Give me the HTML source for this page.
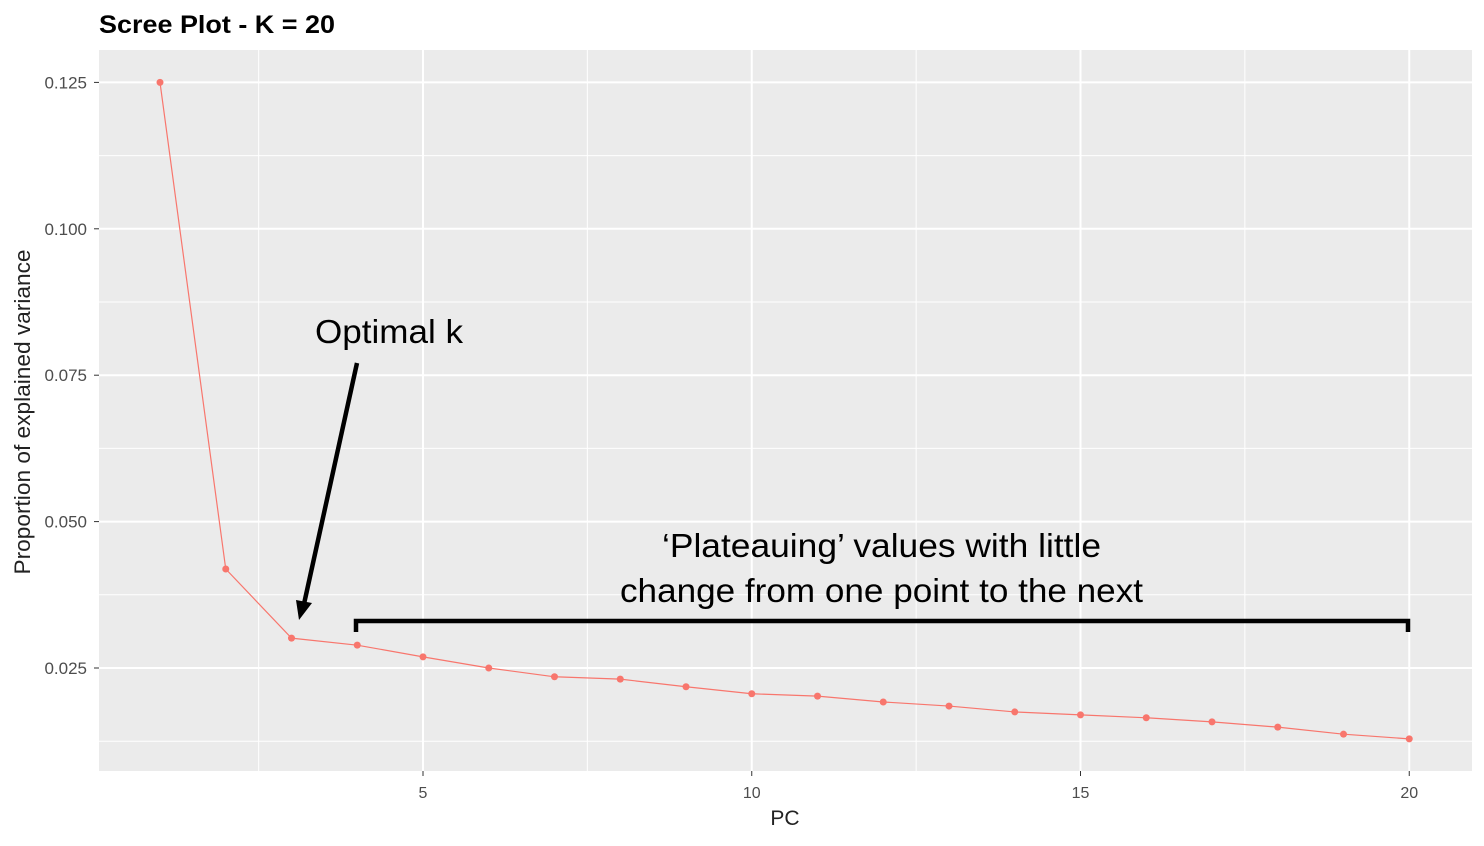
<!DOCTYPE html>
<html><head><meta charset="utf-8"><style>
body{margin:0;background:#fff;width:1484px;height:841px;overflow:hidden;font-family:"Liberation Sans",sans-serif}
</style></head><body>
<svg id="chart" width="1484" height="841" xmlns="http://www.w3.org/2000/svg">
<text x="99" y="33" font-size="25" font-weight="bold" fill="#000" textLength="236" lengthAdjust="spacingAndGlyphs">Scree Plot - K = 20</text>
<rect x="99" y="50" width="1373" height="721" fill="#ebebeb"/>
<g id="grid"></g>
<g id="axes"></g>
<g id="series"></g>
<text x="785" y="825" font-size="21" fill="#222" text-anchor="middle">PC</text>
<text transform="translate(30,412) rotate(-90)" font-size="22" fill="#222" text-anchor="middle" textLength="325" lengthAdjust="spacingAndGlyphs">Proportion of explained variance</text>
<g>
<text x="315" y="343" font-size="33" fill="#000" textLength="148" lengthAdjust="spacingAndGlyphs">Optimal k</text>
<line x1="357" y1="363" x2="304" y2="604" stroke="#000" stroke-width="4.5"/>
<polygon points="299,620 296,600 312,603" fill="#000"/>
</g>
<g>
<text x="662" y="557" font-size="33" fill="#000" textLength="439" lengthAdjust="spacingAndGlyphs">‘Plateauing’ values with little</text>
<text x="620" y="602" font-size="33" fill="#000" textLength="523" lengthAdjust="spacingAndGlyphs">change from one point to the next</text>
<path d="M356,632 L356,621 L1408,621 L1408,632" fill="none" stroke="#000" stroke-width="4.5"/>
</g>
</svg>
<script>
const pcs=[1,2,3,4,5,6,7,8,9,10,11,12,13,14,15,16,17,18,19,20];
const variance=[0.125,0.0419,0.0301,0.0289,0.0269,0.0250,0.0235,0.0231,0.0218,0.0206,0.0202,0.0192,0.0185,0.0175,0.0170,0.0165,0.0158,0.0149,0.0137,0.0129];
const xTicks=[5,10,15,20];
const xMinor=[2.5,7.5,12.5,17.5];
const yTicks=[0.025,0.05,0.075,0.1,0.125];
const yTickLabels=["0.025","0.050","0.075","0.100","0.125"];
const yMinor=[0.0125,0.0375,0.0625,0.0875,0.1125];
const NS="http://www.w3.org/2000/svg";
const xS=v=>423+(v-5)*65.75;
const yS=v=>814.4-v*5856;
function mk(tag,attrs,parent){const e=document.createElementNS(NS,tag);for(const k in attrs)e.setAttribute(k,attrs[k]);parent.appendChild(e);return e;}
const grid=document.getElementById('grid'),axes=document.getElementById('axes'),series=document.getElementById('series');
xMinor.forEach(v=>{const l=mk('line',{x1:xS(v),x2:xS(v),y1:50,y2:771,stroke:'#fff','stroke-width':1},grid);

});
yMinor.forEach(v=>{const l=mk('line',{x1:99,x2:1472,y1:yS(v),y2:yS(v),stroke:'#fff','stroke-width':1},grid);

});
xTicks.forEach(v=>{const l=mk('line',{x1:xS(v),x2:xS(v),y1:50,y2:771,stroke:'#fff','stroke-width':2},grid);


const t=mk('line',{x1:xS(v),x2:xS(v),y1:771,y2:776,stroke:'#333','stroke-width':1},axes);


const tx=mk('text',{x:xS(v),y:798,'font-size':16,fill:'#4d4d4d','text-anchor':'middle'},axes);tx.textContent=v;

});
yTicks.forEach((v,i)=>{const l=mk('line',{x1:99,x2:1472,y1:yS(v),y2:yS(v),stroke:'#fff','stroke-width':2},grid);


const t=mk('line',{x1:94,x2:99,y1:yS(v),y2:yS(v),stroke:'#333','stroke-width':1},axes);


const tx=mk('text',{x:87,y:yS(v)+6,'font-size':17,fill:'#4d4d4d','text-anchor':'end'},axes);tx.textContent=yTickLabels[i];

});
const pl=mk('polyline',{points:pcs.map((p,i)=>xS(p)+','+yS(variance[i])).join(' '),fill:'none',stroke:'#f8766d','stroke-width':1.2},series);


pcs.forEach((p,i)=>{const c=mk('circle',{cx:xS(p),cy:yS(variance[i]),r:3.5,fill:'#f8766d'},series);

});
</script>
</body></html>
